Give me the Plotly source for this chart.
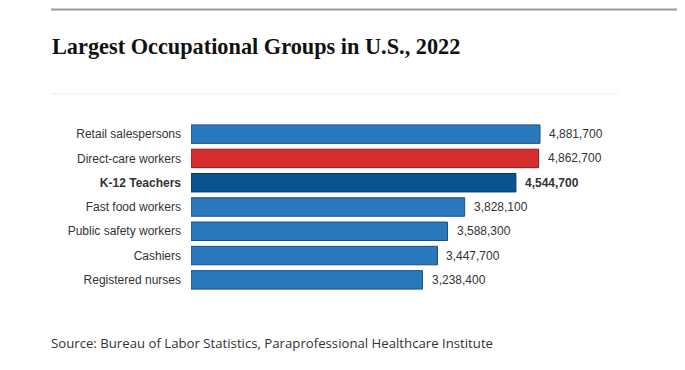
import plotly.graph_objects as go

categories = ["Retail salespersons", "Direct-care workers", "K-12 Teachers",
              "Fast food workers", "Public safety workers", "Cashiers", "Registered nurses"]
values = [4881700, 4862700, 4544700, 3828100, 3588300, 3447700, 3238400]
bold = [False, False, True, False, False, False, False]
fill_colors = ["#2a79bd", "#d62d2d", "#08548f", "#2a79bd", "#2a79bd", "#2a79bd", "#2a79bd"]
line_colors = ["#1c4f7e", "#7e1f28", "#063a66", "#1c4f7e", "#1c4f7e", "#1c4f7e", "#1c4f7e"]

title_text = "Largest Occupational Groups in U.S., 2022"
source_text = "Source: Bureau of Labor Statistics, Paraprofessional Healthcare Institute"

W, H = 685, 370
OFF = 8  # page body margin
L = 191 - OFF
T = 121.8 - OFF
PW = 409
PH = 292.2 - 121.8
R = W - L - PW
B = H - T - PH
xmax = values[0] * PW / 349.0


def px(x):
    return (x - OFF - L) / PW


def py(y):
    return 1 - (y - OFF - T) / PH


ticktext = [f"<b>{c}</b>" if b else c for c, b in zip(categories, bold)]

fig = go.Figure()
fig.add_trace(go.Bar(
    x=values, y=categories, orientation="h",
    marker=dict(color=fill_colors, line=dict(color=line_colors, width=1)),
    hoverinfo="skip",
))

annotations = []
for c, v, b in zip(categories, values, bold):
    s = f"{v:,}"
    annotations.append(dict(
        x=v, y=c, xref="x", yref="y", text=f"<b>{s}</b>" if b else s,
        xanchor="left", yanchor="middle", xshift=7, showarrow=False,
        font=dict(family="Liberation Sans, Arial, sans-serif", size=12, color="#333333"),
    ))
annotations.append(dict(
    x=px(50), y=py(46.5), xref="paper", yref="paper", text=title_text,
    xanchor="left", yanchor="middle", showarrow=False,
    font=dict(family="Liberation Serif, Times New Roman, serif", size=22.3, color="#111111",
              weight=700),
))
annotations.append(dict(
    x=px(49), y=py(343.5), xref="paper", yref="paper", text=source_text,
    xanchor="left", yanchor="middle", showarrow=False,
    font=dict(family="Open Sans, Arial, sans-serif", size=13.2, color="#333333"),
))

shapes = [
    dict(type="line", xref="paper", yref="paper", x0=px(51), x1=px(681), y0=py(9), y1=py(9),
         line=dict(color="#9a9a9a", width=2)),
    dict(type="line", xref="paper", yref="paper", x0=px(51), x1=px(618), y0=py(93.5), y1=py(93.5),
         line=dict(color="#ececec", width=1)),
]

fig.update_layout(
    width=W, height=H,
    margin=dict(l=L, r=R, t=T, b=B, pad=0),
    paper_bgcolor="white", plot_bgcolor="white",
    showlegend=False, bargap=0.24,
    xaxis=dict(range=[0, xmax], visible=False, fixedrange=True),
    yaxis=dict(categoryorder="array", categoryarray=categories, autorange="reversed",
               tickmode="array", tickvals=categories, ticktext=ticktext,
               showgrid=False, zeroline=False, showline=False, ticks="",
               ticklabelstandoff=9,
               tickfont=dict(family="Liberation Sans, Arial, sans-serif", size=12, color="#333333"),
               fixedrange=True),
    annotations=annotations, shapes=shapes,
)

fig.write_html("out.html", config={"displayModeBar": False})
